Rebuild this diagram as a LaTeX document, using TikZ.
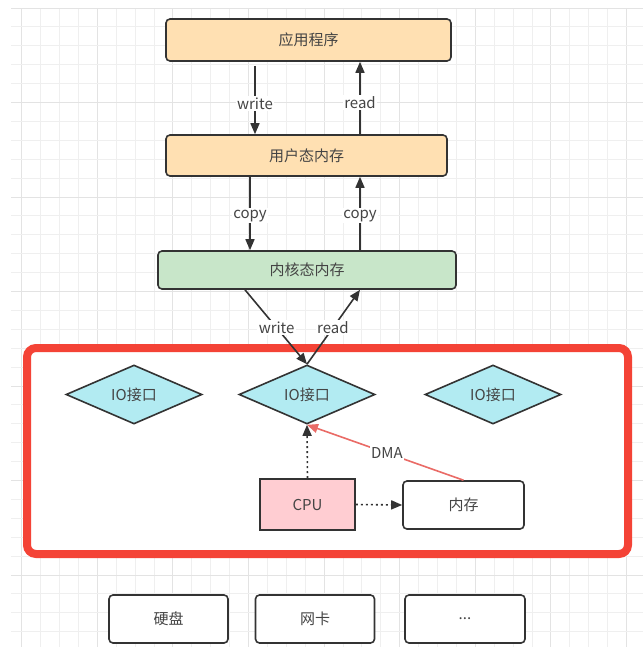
\documentclass[tikz,border=0pt]{standalone}
\usepackage{fontspec}
\setmainfont{Noto Sans CJK SC}
\usetikzlibrary{shapes.geometric,arrows.meta}
\definecolor{stk}{HTML}{333333}
\definecolor{txt}{HTML}{444444}
\definecolor{orangefill}{HTML}{FFE0B2}
\definecolor{greenfill}{HTML}{C8E6C9}
\definecolor{cyanfill}{HTML}{B2EBF2}
\definecolor{pinkfill}{HTML}{FFCDD2}
\definecolor{framered}{HTML}{F44336}
\definecolor{dmared}{HTML}{EA6B66}
\definecolor{gridminor}{HTML}{EFEFEF}
\definecolor{gridmajor}{HTML}{E3E3E3}
\begin{document}
\begin{tikzpicture}[x=1pt,y=-1pt,
  base/.style={draw=stk, line width=1.6pt, text=txt, inner sep=0pt, font=\fontsize{15}{17}\selectfont},
  rbox/.style={base, rectangle, rounded corners=4pt},
  dia/.style={base, diamond, shape aspect=2.3, fill=cyanfill, minimum width=136pt, minimum height=59pt},
  arr/.style={draw=stk, line width=1.6pt, -{Triangle[length=11pt,width=9pt]}},
  dotarr/.style={arr, dash pattern=on 2pt off 3pt},
  dmaarr/.style={draw=dmared, line width=1.6pt, -{Triangle[length=11pt,width=9pt]}},
  lbl/.style={fill=white, text=txt, inner sep=1.5pt, font=\fontsize{15}{17}\selectfont}
]
\useasboundingbox (0,0) rectangle (643,667);
\fill[white] (0,0) rectangle (643,667);
% grid
\foreach \i in {0,...,32}{
  \pgfmathsetmacro{\gx}{21.7+18.9*\i}
  \pgfmathtruncatemacro{\m}{mod(\i,4)==0 ? 1 : 0}
  \ifnum\m=1 \draw[gridmajor, line width=1pt] (\gx,8) -- (\gx,647);
  \else \draw[gridminor, line width=1pt] (\gx,8) -- (\gx,647); \fi
}
\foreach \j in {0,...,33}{
  \pgfmathsetmacro{\gy}{8+18.9*\j}
  \pgfmathtruncatemacro{\m}{mod(\j,5)==0 ? 1 : 0}
  \ifnum\m=1 \draw[gridmajor, line width=1pt] (11,\gy) -- (643,\gy);
  \else \draw[gridminor, line width=1pt] (11,\gy) -- (643,\gy); \fi
}
% red frame
\draw[framered, line width=8pt, rounded corners=9pt, fill=white] (27,348) rectangle (628,554);

% nodes
\node[rbox, fill=orangefill, minimum width=285pt, minimum height=42pt] (app) at (308.5,40) {应用程序};
\node[rbox, fill=orangefill, minimum width=281pt, minimum height=41pt] (user) at (306.5,155.5) {用户态内存};
\node[rbox, fill=greenfill, minimum width=298pt, minimum height=38pt] (kern) at (307,270) {内核态内存};
\node[dia] (io1) at (134,394.5) {IO接口};
\node[dia] (io2) at (307,394.5) {IO接口};
\node[dia] (io3) at (493,394.5) {IO接口};
\node[base, rectangle, fill=pinkfill, minimum width=95pt, minimum height=51pt] (cpu) at (307.5,504.5) {CPU};
\node[rbox, fill=white, minimum width=121pt, minimum height=48pt] (mem) at (463.5,505) {内存};
\node[rbox, fill=white, minimum width=119pt, minimum height=48pt] (disk) at (168.5,619) {硬盘};
\node[rbox, fill=white, minimum width=119pt, minimum height=48pt] (nic) at (315,619) {网卡};
\node[rbox, fill=white, minimum width=120pt, minimum height=48pt] (more) at (465,619) {...};

% connectors
\draw[arr] ([xshift=-53.5pt,yshift=-4pt]app.south) -- node[lbl, pos=0.55] {write} ([xshift=-51.5pt]user.north);
\draw[arr] ([xshift=53.5pt]user.north) -- node[lbl, pos=0.44] {read} ([xshift=51.5pt]app.south);
\draw[arr] ([xshift=-56.5pt]user.south) -- node[lbl, pos=0.53] {copy} ([xshift=-57pt]kern.north);
\draw[arr] ([xshift=53pt]kern.north) -- node[lbl, pos=0.47] {copy} ([xshift=53.5pt]user.south);
\draw[arr] ([xshift=-62pt]kern.south) -- node[lbl, pos=0.51] {write} (io2.north);
\draw[arr] (io2.north) -- node[lbl, pos=0.49] {read} ([xshift=53pt]kern.south);
\draw[dotarr] (cpu.north) -- (io2.south);
\draw[dotarr] (cpu.east) -- (mem.west);
\draw[dmaarr] (mem.north) -- node[lbl, pos=0.49] {DMA} (io2.south);
\end{tikzpicture}
\end{document}
